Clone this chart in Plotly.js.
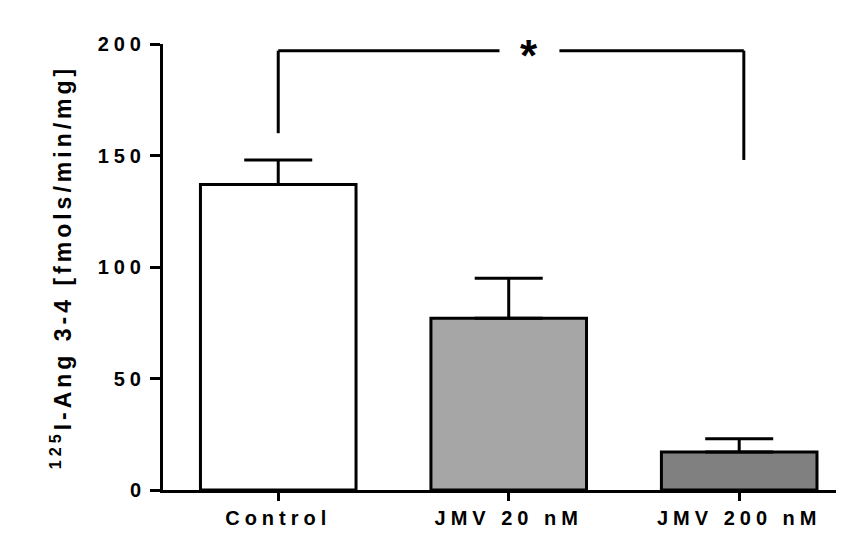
<!DOCTYPE html>
<html>
<head>
<script src="https://cdn.plot.ly/plotly-3.0.1.min.js"></script>
<style>
body { margin: 0; background: #fff; }
.xtick text, .ytick text { letter-spacing: 5px; }
.g-ytitle text { letter-spacing: 4px; }
</style>
</head>
<body>
<div id="chart" style="width:849px;height:538px;"></div>
<script>
// data
var groups = ["Control", "JMV 20 nM", "JMV 200 nM"]
var means = [137, 77, 17]
var sems = [11, 18, 6]
var barColors = ["#ffffff", "#a6a6a6", "#808080"]

// significance bracket: Control vs JMV 200 nM
var sigY = 197, sigLeftFoot = 160, sigRightFoot = 148

var trace = {
    x: [0, 1, 2],
    y: means,
    type: 'bar',
    width: 0.675,
    marker: { color: barColors, line: { color: '#000', width: 3 } },
    error_y: {
        type: 'data', symmetric: false,
        array: sems, arrayminus: [0, 0, 0],
        color: '#000', thickness: 3, width: 34
    },
    hoverinfo: 'none'
}

var layout = {
    width: 849, height: 538,
    margin: { l: 163, r: 13, t: 44, b: 48 },
    paper_bgcolor: '#fff', plot_bgcolor: '#fff',
    showlegend: false,
    font: { family: 'Liberation Sans, Arial', color: '#000' },
    xaxis: {
        range: [-0.5, 2.42],
        tickvals: [0, 1, 2], ticktext: groups,
        showgrid: false, zeroline: false,
        showline: true, linecolor: '#000', linewidth: 3,
        ticks: 'outside', ticklen: 8, tickwidth: 3, tickcolor: '#000',
        tickfont: { size: 20, weight: 'bold' }
    },
    yaxis: {
        range: [0, 200],
        tickvals: [0, 50, 100, 150, 200],
        showgrid: false, zeroline: false,
        showline: true, linecolor: '#000', linewidth: 3,
        ticks: 'outside', ticklen: 10, tickwidth: 3, tickcolor: '#000',
        tickfont: { size: 20, weight: 'bold' },
        title: { text: '<sup>125</sup>I-Ang 3-4 [fmols/min/mg]', font: { size: 23, weight: 'bold' }, standoff: 20 }
    },
    shapes: [
        { type: 'line', xref: 'x', yref: 'y', x0: 0, x1: 0, y0: sigLeftFoot, y1: sigY, line: { color: '#000', width: 3 } },
        { type: 'line', xref: 'x', yref: 'y', x0: 0, x1: 0.96, y0: sigY, y1: sigY, line: { color: '#000', width: 3 } },
        { type: 'line', xref: 'x', yref: 'y', x0: 1.22, x1: 2.02, y0: sigY, y1: sigY, line: { color: '#000', width: 3 } },
        { type: 'line', xref: 'x', yref: 'y', x0: 2.02, x1: 2.02, y0: sigY, y1: sigRightFoot, line: { color: '#000', width: 3 } }
    ],
    annotations: [
        { x: 1.09, y: sigY - 2, xref: 'x', yref: 'y', text: '<b>*</b>', showarrow: false, font: { size: 44 } }
    ]
}

Plotly.newPlot('chart', [trace], layout, { displayModeBar: false, staticPlot: true })
</script>
</body>
</html>
